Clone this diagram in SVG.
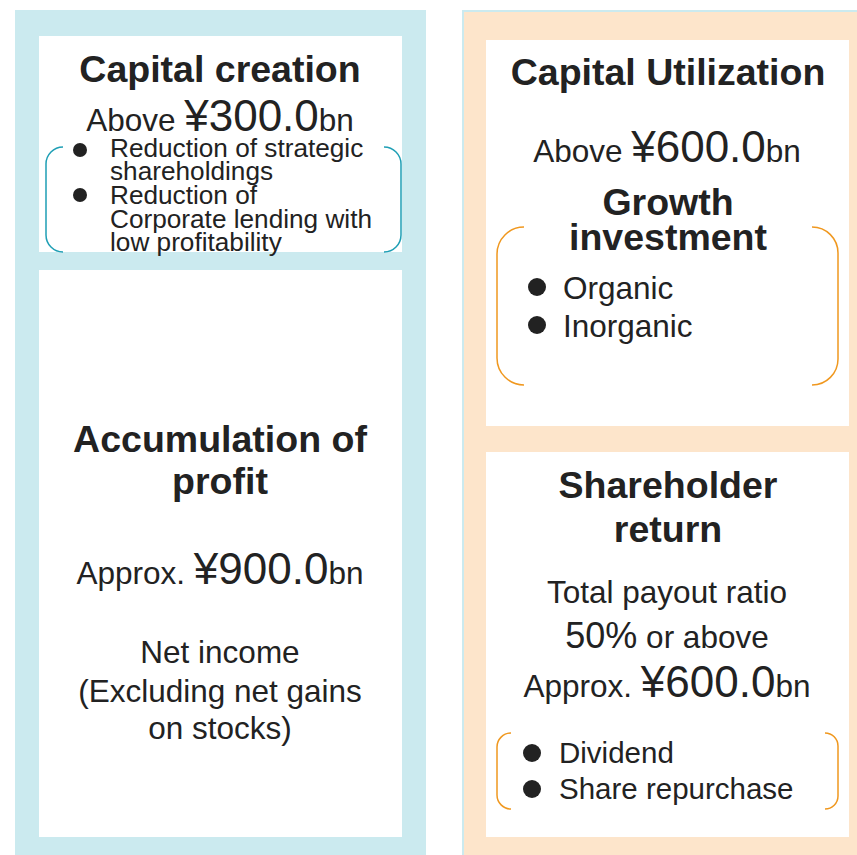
<svg xmlns="http://www.w3.org/2000/svg" width="857" height="855" viewBox="0 0 857 855">
  <style>
    text { font-family: "Liberation Sans", Arial, sans-serif; fill: #222222; }
    .title { font-size: 37.5px; font-weight: bold; text-anchor: middle; }
    .body { font-size: 31.5px; text-anchor: middle; }
    .big { font-size: 44px; }
    .item { font-size: 26.2px; }
    .item2 { font-size: 29.5px; }
    .dot { fill: #222222; }
    .teal { fill: none; stroke: #1f9fb5; stroke-width: 1.5; }
    .orange { fill: none; stroke: #f0981f; stroke-width: 1.5; }
    .card { fill: #ffffff; }
  </style>

  <!-- panel backgrounds -->
  <rect x="15" y="10" width="411" height="845" fill="#cbeaef"/>
  <rect x="463" y="11" width="400" height="850" fill="#fde5cb" stroke="#cbeaef" stroke-width="2"/>

  <!-- Capital creation -->
  <g id="capital-creation">
    <rect class="card" x="39" y="36" width="363" height="216"/>
    <text class="title" x="220" y="82">Capital creation</text>
    <text class="body" x="220" y="131"><tspan>Above </tspan><tspan class="big">¥300.0</tspan><tspan>bn</tspan></text>
    <path class="teal" d="M63,147 A17,17 0 0 0 46,164 L46,235 A17,17 0 0 0 63,252"/>
    <path class="teal" d="M384,147 A17,17 0 0 1 401,164 L401,235 A17,17 0 0 1 384,252"/>
    <circle class="dot" cx="80" cy="150" r="7"/>
    <circle class="dot" cx="80" cy="195" r="7"/>
    <text class="item" x="110" y="157">Reduction of strategic</text>
    <text class="item" x="110" y="180">shareholdings</text>
    <text class="item" x="110" y="204">Reduction of</text>
    <text class="item" x="110" y="228">Corporate lending with</text>
    <text class="item" x="110" y="251">low profitability</text>
  </g>

  <!-- Accumulation of profit -->
  <g id="accumulation-of-profit">
    <rect class="card" x="39" y="270" width="363" height="567"/>
    <text class="title" x="220" y="452">Accumulation of</text>
    <text class="title" x="220" y="494">profit</text>
    <text class="body" x="220" y="584"><tspan>Approx. </tspan><tspan class="big">¥900.0</tspan><tspan>bn</tspan></text>
    <text class="body" x="220" y="663">Net income</text>
    <text class="body" x="220" y="702">(Excluding net gains</text>
    <text class="body" x="220" y="739">on stocks)</text>
  </g>

  <!-- Capital Utilization / Growth investment -->
  <g id="capital-utilization">
    <rect class="card" x="486" y="40" width="363" height="386"/>
    <text class="title" x="668" y="85">Capital Utilization</text>
    <text class="body" x="667" y="162"><tspan>Above </tspan><tspan class="big">¥600.0</tspan><tspan>bn</tspan></text>
    <text class="title" x="668" y="215">Growth</text>
    <text class="title" x="668" y="250">investment</text>
    <path class="orange" d="M524,227 A27,27 0 0 0 497,254 L497,358 A27,27 0 0 0 524,385"/>
    <path class="orange" d="M812,227 A26,26 0 0 1 838,253 L838,359 A26,26 0 0 1 812,385"/>
    <circle class="dot" cx="537" cy="287" r="9"/>
    <circle class="dot" cx="537" cy="325" r="9"/>
    <text class="body" x="563" y="299" style="text-anchor:start">Organic</text>
    <text class="body" x="563" y="337" style="text-anchor:start">Inorganic</text>
  </g>

  <!-- Shareholder return -->
  <g id="shareholder-return">
    <rect class="card" x="486" y="452" width="363" height="385"/>
    <text class="title" x="668" y="498">Shareholder</text>
    <text class="title" x="668" y="542">return</text>
    <text class="body" x="667" y="603">Total payout ratio</text>
    <text class="body" x="667" y="648"><tspan style="font-size:36px">50%</tspan><tspan> or above</tspan></text>
    <text class="body" x="667" y="697"><tspan>Approx. </tspan><tspan class="big">¥600.0</tspan><tspan>bn</tspan></text>
    <path class="orange" d="M511,733 A14,14 0 0 0 497,747 L497,795 A14,14 0 0 0 511,809"/>
    <path class="orange" d="M825,733 A13,13 0 0 1 838,746 L838,796 A13,13 0 0 1 825,809"/>
    <circle class="dot" cx="532" cy="753" r="9"/>
    <circle class="dot" cx="532" cy="789" r="9"/>
    <text class="item2" x="559" y="763">Dividend</text>
    <text class="item2" x="559" y="799">Share repurchase</text>
  </g>

  <!-- no connectors in this figure -->
  <g id="connectors"/>
</svg>
